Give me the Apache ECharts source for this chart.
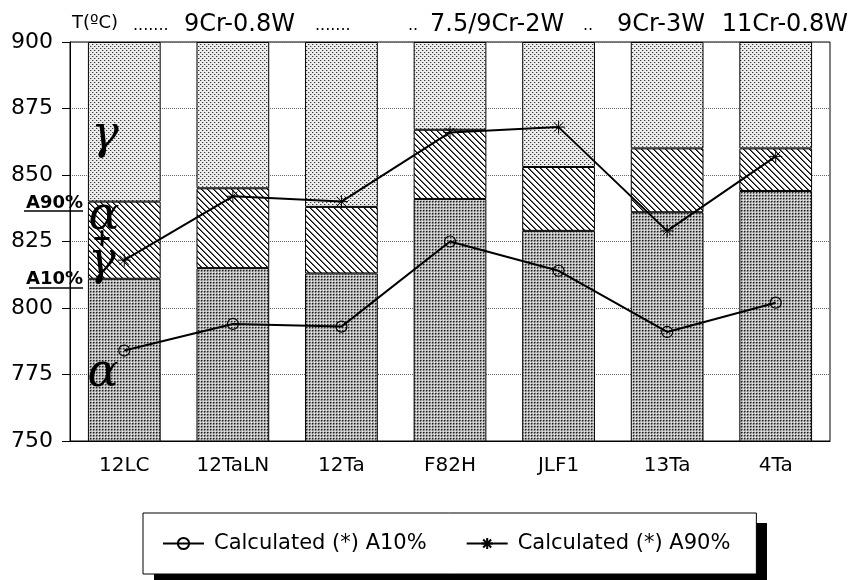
<!DOCTYPE html>
<html>
<head>
<meta charset="utf-8">
<script src="https://cdn.jsdelivr.net/npm/echarts@6/dist/echarts.min.js"></script>
<style>
    html, body { margin: 0; padding: 0; background: #fff; }
    #chart { width: 851px; height: 580px; }
</style>
</head>
<body>
<div id="chart"></div>
<script>
// alloys and transformation temperatures (°C)
var categories = ['12LC', '12TaLN', '12Ta', 'F82H', 'JLF1', '13Ta', '4Ta'];
var measuredA10 = [811, 815, 813, 841, 829, 836, 844];
var measuredA90 = [840, 845, 838, 867, 853, 860, 860];
var calcA10 = [784, 794, 793, 825, 814, 791, 802];
var calcA90 = [818, 842, 840, 866, 868, 829, 857];
var yMin = 750, yMax = 900, yStep = 25;

(function () {
    var font = '"DejaVu Sans", sans-serif';

    // small repeating tiles used as fills
    var makeTile = function (w, h, bg, dots) {
        var c = document.createElement('canvas');
        c.width = w;
        c.height = h;
        var ctx = c.getContext('2d');
        ctx.fillStyle = bg;
        ctx.fillRect(0, 0, w, h);
        dots.forEach(function (d) {
            ctx.fillStyle = d[2];
            ctx.fillRect(d[0], d[1], 1, 1);
        });
        return c;
    };
    var alphaTile = makeTile(3, 3, '#bcbcbc', [[0, 0, '#1e1e1e'], [1, 0, '#707070'], [0, 1, '#707070'], [2, 2, '#eeeeee']]);
    var gammaTile = makeTile(4, 4, '#ececec', [[0, 0, '#3a3a3a'], [2, 2, '#3a3a3a'], [1, 0, '#b4b4b4'], [3, 2, '#b4b4b4']]);
    var hatchDots = [];
    for (var i = 0; i < 6; i++) {
        hatchDots.push([i, i, '#000']);
        hatchDots.push([(i + 1) % 6, i, '#666']);
    }
    var hatchTile = makeTile(6, 6, '#fff', hatchDots);

    var midBand = measuredA90.map(function (v, i) { return v - measuredA10[i]; });
    var topBand = measuredA90.map(function (v) { return yMax - v; });

    var barStyle = function (tile) {
        return { color: { image: tile, repeat: 'repeat' }, borderColor: '#000', borderWidth: 1 };
    };

    var txt = function (x, y, text, f, align) {
        return {
            type: 'text', x: x, y: y, z: 100,
            style: { text: text, font: f, fill: '#000', align: align || 'left', verticalAlign: 'middle' }
        };
    };
    var uline = function (x1, x2, y) {
        return { type: 'line', z: 100, shape: { x1: x1, y1: y, x2: x2, y2: y }, style: { stroke: '#000', lineWidth: 1.5 } };
    };
    var greek = 'italic 46px "DejaVu Serif", serif';

    var chart = echarts.init(document.getElementById('chart'));
    chart.setOption({
        animation: false,
        backgroundColor: '#fff',
        grid: { left: 70, right: 21, top: 42, bottom: 139, show: true, borderColor: '#000', borderWidth: 1 },
        xAxis: {
            type: 'category',
            data: categories,
            axisLine: { lineStyle: { color: '#000', width: 1 } },
            axisTick: { alignWithLabel: true, length: 9, lineStyle: { color: '#000' } },
            axisLabel: { color: '#000', fontFamily: font, fontSize: 20, margin: 15 }
        },
        yAxis: {
            type: 'value',
            min: yMin,
            max: yMax,
            interval: yStep,
            axisLine: { show: true, lineStyle: { color: '#000', width: 1 } },
            axisTick: { show: true, length: 8, lineStyle: { color: '#000' } },
            axisLabel: { color: '#000', fontFamily: font, fontSize: 22, margin: 17 },
            splitLine: { lineStyle: { color: '#666', type: 'dotted', width: 1 } }
        },
        legend: {
            data: ['Calculated (*) A10%', 'Calculated (*) A90%'],
            left: 143,
            top: 513,
            padding: [20, 26, 20, 19],
            itemWidth: 41,
            itemHeight: 14,
            itemGap: 39,
            z: 10,
            backgroundColor: '#fff',
            borderColor: '#000',
            borderWidth: 1,
            borderRadius: 0,
            textStyle: { color: '#000', fontFamily: font, fontSize: 21, padding: [0, 0, 0, 5] }
        },
        graphic: [
            // drop shadow behind the legend box
            { type: 'rect', z: 1, shape: { x: 154, y: 523, width: 613, height: 62 }, style: { fill: '#000' } },
            txt(72, 23, 'T(ºC)', '18px ' + font),
            txt(133, 26, '.......', '16px ' + font),
            txt(184, 25, '9Cr-0.8W', '24px ' + font),
            txt(315, 26, '.......', '16px ' + font),
            txt(408, 26, '..', '16px ' + font),
            txt(430, 25, '7.5/9Cr-2W', '24px ' + font),
            txt(583, 26, '..', '16px ' + font),
            txt(617, 25, '9Cr-3W', '24px ' + font),
            txt(848, 25, '11Cr-0.8W', '24px ' + font, 'right'),
            txt(83, 203, 'A90%', 'bold 18px ' + font, 'right'),
            uline(24, 83, 211),
            txt(83, 279, 'A10%', 'bold 18px ' + font, 'right'),
            uline(29, 83, 288),
            txt(105, 136, 'γ', greek, 'center'),
            txt(104, 217, 'α', greek, 'center'),
            txt(102, 240, '+', 'bold 24px ' + font, 'center'),
            txt(102, 262, 'γ', greek, 'center'),
            txt(103, 374, 'α', greek, 'center')
        ],
        series: [
            { name: 'α', type: 'bar', stack: 'phase', barWidth: '67%', data: measuredA10, itemStyle: barStyle(alphaTile), silent: true },
            { name: 'α+γ', type: 'bar', stack: 'phase', data: midBand, itemStyle: barStyle(hatchTile), silent: true },
            { name: 'γ', type: 'bar', stack: 'phase', data: topBand, itemStyle: barStyle(gammaTile), silent: true },
            {
                name: 'Calculated (*) A10%', type: 'line', data: calcA10, z: 10,
                symbol: 'circle', symbolSize: 11,
                lineStyle: { color: '#000', width: 2 },
                itemStyle: { color: 'rgba(0,0,0,0)', borderColor: '#000', borderWidth: 1.2 }
            },
            {
                name: 'Calculated (*) A90%', type: 'line', data: calcA90, z: 10,
                symbol: 'path://M0,-1L0,1M-0.71,-0.71L0.71,0.71M-0.71,0.71L0.71,-0.71M-1,0L1,0',
                symbolSize: 13,
                lineStyle: { color: '#000', width: 2 },
                itemStyle: { color: 'none', borderColor: '#000', borderWidth: 1 }
            }
        ]
    });
})();
</script>
</body>
</html>
